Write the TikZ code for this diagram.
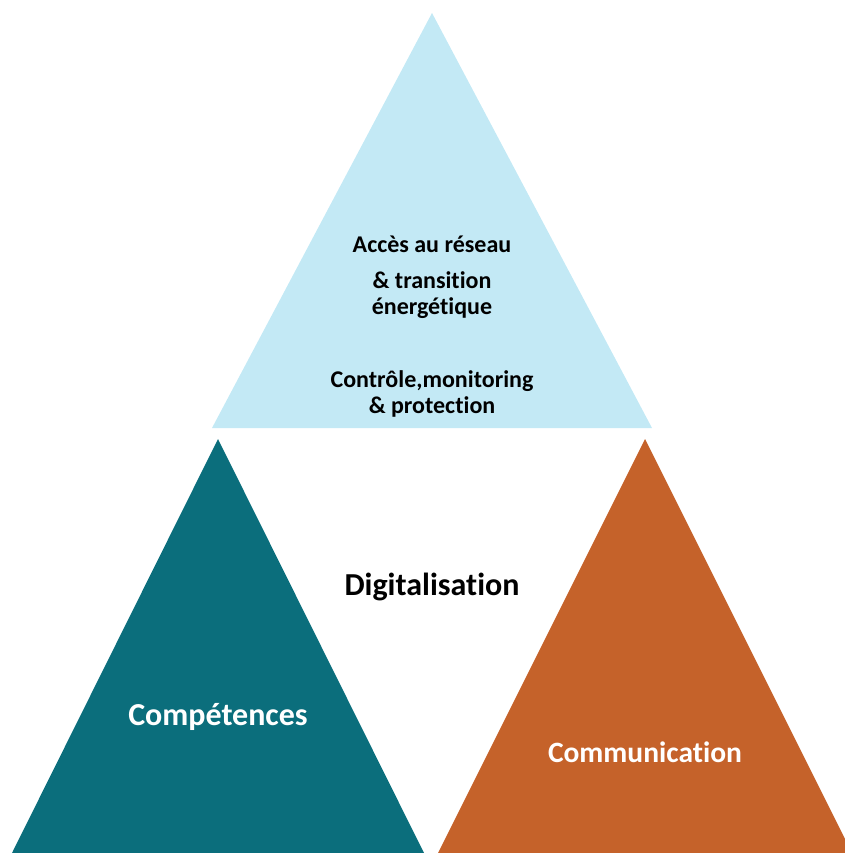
\documentclass[tikz,border=0pt]{standalone}
\usepackage{fontspec}
\setmainfont{Carlito}[Ligatures=NoCommon]
\definecolor{lightblue}{HTML}{C3E9F5}
\definecolor{teal}{HTML}{0B6E7C}
\definecolor{rust}{HTML}{C5622A}
\begin{document}
\begin{tikzpicture}[x=1pt,y=-1pt,
  toptext/.style={font=\bfseries\fontsize{24}{26}\selectfont, text=black, align=center, inner sep=0pt},
  midtext/.style={font=\bfseries\fontsize{32}{34}\selectfont, text=black, inner sep=0pt},
  whitetext/.style={text=white, inner sep=0pt}]
\useasboundingbox (0,0) rectangle (844,853);
% triangles
\fill[lightblue] (432,13) -- (652,428) -- (212,428) -- cycle;
\fill[teal] (218,439) -- (424,853) -- (12,853) -- cycle;
\fill[rust] (645,439) -- (852,853) -- (438,853) -- cycle;
% texts
\node[toptext] (acces) at (432,244) {Accès au réseau};
\node[toptext] (trans) at (432,295) {\& transition\\énergétique};
\node[toptext] (ctrl) at (432,394) {Contrôle,monitoring\\\& protection};
\node[midtext] (digi) at (432,587) {Digitalisation};
\node[whitetext, font=\bfseries\fontsize{32}{36}\selectfont] (comp) at (218,717) {Compétences};
\node[whitetext, font=\bfseries\fontsize{29.5}{32}\selectfont] (comm) at (645,752) {Communication};
\end{tikzpicture}
\end{document}
